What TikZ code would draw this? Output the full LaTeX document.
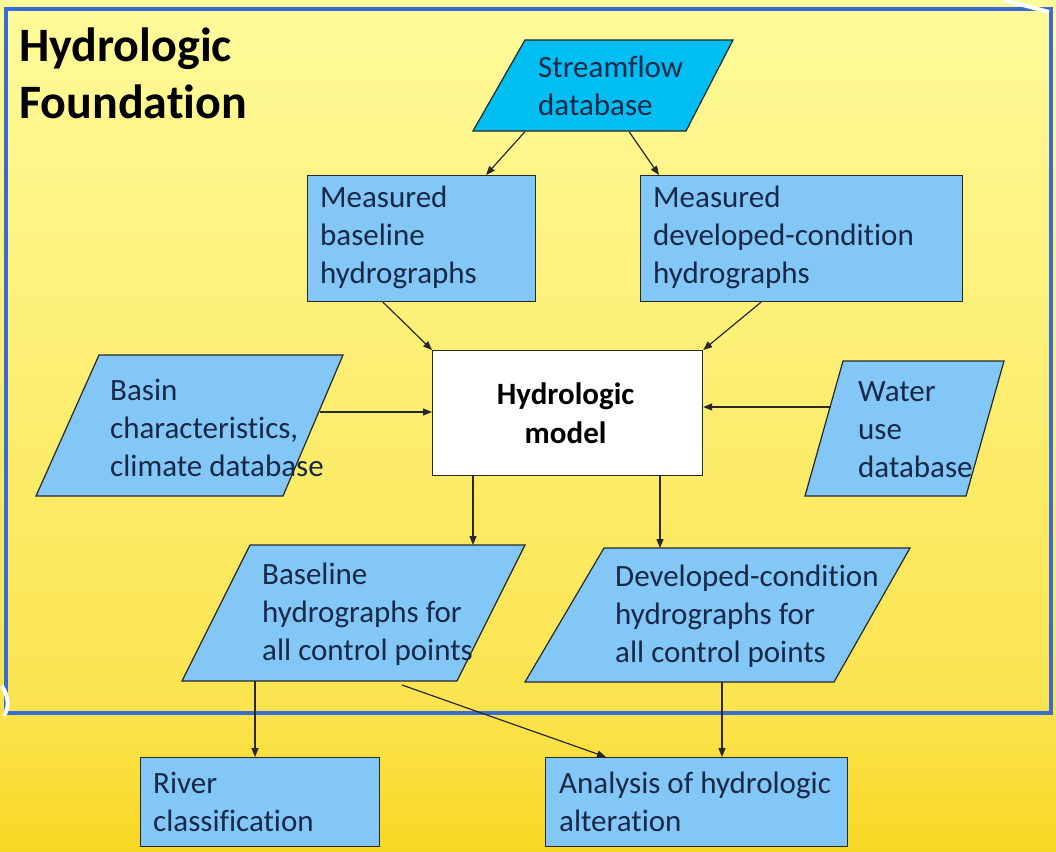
\documentclass[tikz,border=0pt]{standalone}
\usepackage{fontspec}
\setmainfont{Carlito}[Ligatures={NoCommon}]
\usetikzlibrary{arrows.meta,calc}
\definecolor{bgtop}{RGB}{255,251,155}
\definecolor{bgmid}{RGB}{251,228,80}
\definecolor{bgbot}{RGB}{248,216,36}
\definecolor{framebl}{RGB}{58,106,214}
\definecolor{boxbl}{RGB}{130,199,245}
\definecolor{cyanbl}{RGB}{0,190,242}
\definecolor{txt}{RGB}{24,40,72}
\definecolor{edge}{RGB}{40,40,40}
\tikzset{
  body/.style={font=\fontsize{31}{38}\selectfont, text=txt, align=left, inner sep=0pt},
  rbox/.style={draw=edge, line width=1.2pt, fill=boxbl, inner sep=0pt},
  para/.style={draw=edge, line width=1.2pt, line join=miter},
  conn/.style={draw=edge, line width=1.2pt, -{Triangle[length=9pt,width=7pt]}},
}
\begin{document}
\begin{tikzpicture}[x=1pt,y=-1pt]
% background
\useasboundingbox (0,0) rectangle (1056,851);
\shade[top color=bgtop, bottom color=bgmid] (0,0) rectangle (1056,700);
\shade[top color=bgmid, bottom color=bgbot] (0,700) rectangle (1056,851);
% frame
\draw[framebl, line width=4.5pt] (6,9) rectangle (1051,713);
% white corner artifacts
\draw[white, line width=4pt] (1004,0) -- (1049,12);
\draw[white, line width=4pt] (2,686) .. controls (8,696) and (10,706) .. (4,716);

% title
\node[anchor=north west, align=left, inner sep=0pt, font=\fontsize{48}{57}\selectfont\bfseries] (title) at (19,28) {Hydrologic\\Foundation};

% Streamflow database
\coordinate (sf-tl) at (525,40); \coordinate (sf-tr) at (733,40);
\coordinate (sf-br) at (686,131); \coordinate (sf-bl) at (473,131);
\filldraw[para, fill=cyanbl] (sf-tl) -- (sf-tr) -- (sf-br) -- (sf-bl) -- cycle;
\node[body, anchor=west] (sf) at (538,85.5) {Streamflow\\database};

% Measured boxes
\node[rbox, anchor=north west, minimum width=228pt, minimum height=126pt] (mb) at (307,175) {};
\node[body, anchor=west] (mbt) at (320,237.5) {Measured\\baseline\\hydrographs};
\node[rbox, anchor=north west, minimum width=322pt, minimum height=126pt] (md) at (640,175) {};
\node[body, anchor=west] (mdt) at (653,237.5) {Measured\\developed-condition\\hydrographs};

% Hydrologic model
\node[draw=edge, line width=1.2pt, fill=white, anchor=north west, minimum width=270pt, minimum height=125pt] (hm) at (432,350) {};
\node[body, align=center, font=\fontsize{31}{39}\selectfont\bfseries, text=black] (hmt) at ([xshift=-2pt]hm.center) {Hydrologic\\model};

% Basin characteristics
\coordinate (ba-tl) at (99,355); \coordinate (ba-tr) at (343,355);
\coordinate (ba-br) at (283,496); \coordinate (ba-bl) at (36,496);
\filldraw[para, fill=boxbl] (ba-tl) -- (ba-tr) -- (ba-br) -- (ba-bl) -- cycle;
\node[body, anchor=west] (bat) at (110,427.5) {Basin\\characteristics,\\climate database};

% Water use database
\coordinate (wa-tl) at (843,361); \coordinate (wa-tr) at (1004,361);
\coordinate (wa-br) at (966,496); \coordinate (wa-bl) at (805,496);
\filldraw[para, fill=boxbl] (wa-tl) -- (wa-tr) -- (wa-br) -- (wa-bl) -- cycle;
\node[body, anchor=west] (wat) at (858,429.5) {Water\\use\\database};

% Baseline hydrographs
\coordinate (bl-tl) at (250,545); \coordinate (bl-tr) at (525,545);
\coordinate (bl-br) at (457,681); \coordinate (bl-bl) at (182,681);
\filldraw[para, fill=boxbl] (bl-tl) -- (bl-tr) -- (bl-br) -- (bl-bl) -- cycle;
\node[body, anchor=west] (blt) at (262,614.5) {Baseline\\hydrographs for\\all control points};

% Developed-condition hydrographs
\coordinate (dv-tl) at (604,548); \coordinate (dv-tr) at (910,548);
\coordinate (dv-br) at (834,682); \coordinate (dv-bl) at (525,682);
\filldraw[para, fill=boxbl] (dv-tl) -- (dv-tr) -- (dv-br) -- (dv-bl) -- cycle;
\node[body, anchor=west] (dvt) at (615,616.5) {Developed-condition\\hydrographs for\\all control points};

% bottom boxes
\node[rbox, anchor=north west, minimum width=239pt, minimum height=89pt] (rc) at (140,757) {};
\node[body, anchor=west] (rct) at (153,802) {River\\classification};
\node[rbox, anchor=north west, minimum width=302pt, minimum height=89pt] (ah) at (545,757) {};
\node[body, anchor=west] (aht) at (559,802) {Analysis of hydrologic\\alteration};

% connectors
\coordinate (sf-o1) at (525,131.6);
\coordinate (sf-o2) at (629,131.6);
\draw[conn] (sf-o1) -- ([xshift=179pt]mb.north west);
\draw[conn] (sf-o2) -- ([xshift=19pt]md.north west);
\draw[conn] ([xshift=76pt]mb.south west) -- (hm.north west);
\draw[conn] ([xshift=121pt]md.south west) -- (hm.north east);
\coordinate (ba-o) at (320,412);
\draw[conn] (ba-o) -- (hm.west |- ba-o);
\coordinate (wa-o) at (831,407);
\draw[conn] (wa-o) -- (hm.east |- wa-o);
\coordinate (bl-in) at (473,545);
\draw[conn] (hm.south -| bl-in) -- (bl-in);
\coordinate (dv-in) at (660,548);
\draw[conn] (hm.south -| dv-in) -- (dv-in);
\coordinate (bl-o1) at (255,681);
\draw[conn] (bl-o1) -- (rc.north -| bl-o1);
\coordinate (bl-o2) at (402,685);
\draw[conn] (bl-o2) -- ([xshift=61pt]ah.north west);
\coordinate (dv-o) at (722,682);
\draw[conn] (dv-o) -- (ah.north -| dv-o);
\end{tikzpicture}
\end{document}
